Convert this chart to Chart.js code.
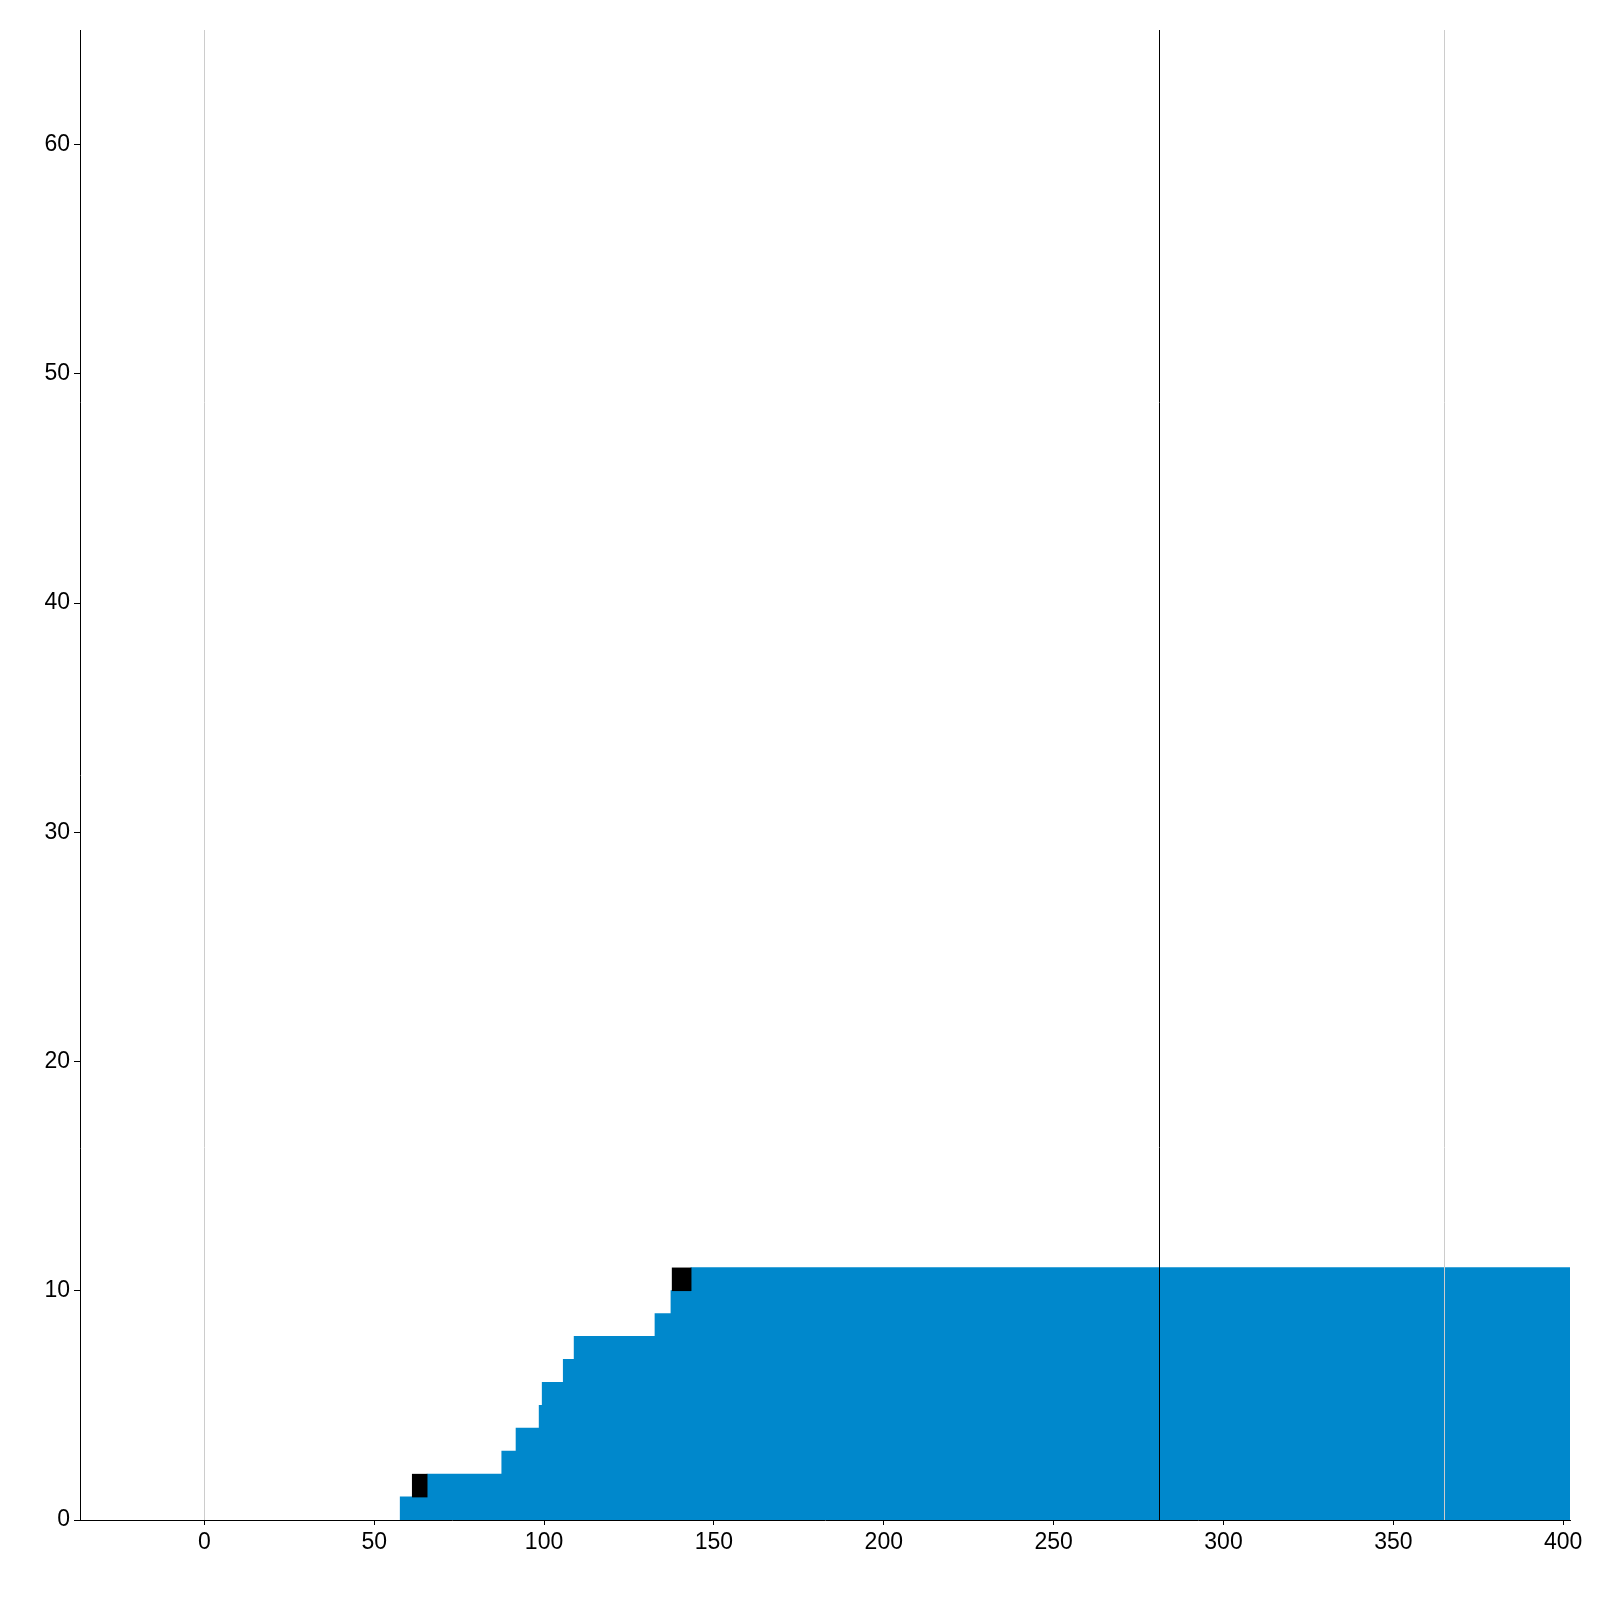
<!DOCTYPE html>
<html>
<head>
<meta charset="utf-8">
<script src="https://cdn.jsdelivr.net/npm/chart.js@4.4.1/dist/chart.umd.min.js"></script>
<style>
html,body{margin:0;padding:0;background:#ffffff;}
canvas{display:block;}
</style>
</head>
<body>
<canvas id="c" width="1600" height="1600"></canvas>
<script>
// Rows (each row spans [row, row+1] on the y axis)
const rows = [0, 1, 2, 3, 4, 5, 6, 7, 8, 9, 10];
const barStarts = [57.7, 65.6, 87.6, 91.8, 98.6, 99.5, 105.7, 108.9, 132.7, 137.4, 143.3];
const barEnds = [402, 402, 402, 402, 402, 402, 402, 402, 402, 402, 402];

// Black marker cells
const markerRows = [1, 10];
const markerStarts = [61.2, 137.7];
const markerEnds = [65.6, 143.3];

// Axis ticks
const xTicks = [0, 50, 100, 150, 200, 250, 300, 350, 400];
const yTicks = [0, 10, 20, 30, 40, 50, 60];

// Vertical rules
const grayRules = [0, 365];
const blackRules = [281];

const xMin = -36.6, xMax = 402, yMin = 0, yMax = 65;

const blueData = rows.map((r, i) => ({ x: [barStarts[i], barEnds[i]], y: r + 0.5 }));
const markerData = markerRows.map((r, i) => ({ x: [markerStarts[i], markerEnds[i]], y: r + 0.5 }));

const rulesPlugin = {
  id: 'rules',
  afterDatasetsDraw(chart) {
    const { ctx, chartArea: { top, bottom }, scales: { x } } = chart;
    ctx.save();
    ctx.lineWidth = 1;
    const draw = (v, color) => {
      const px = Math.round(x.getPixelForValue(v)) + 0.5;
      ctx.strokeStyle = color;
      ctx.beginPath();
      ctx.moveTo(px, top);
      ctx.lineTo(px, bottom);
      ctx.stroke();
    };
    grayRules.forEach(v => draw(v, '#cccccc'));
    blackRules.forEach(v => draw(v, '#000000'));
    ctx.restore();
  }
};

const tickFont = { family: "'Liberation Sans', Arial, sans-serif", size: 23 };

new Chart(document.getElementById('c'), {
  type: 'bar',
  data: {
    datasets: [
      {
        label: 'markers',
        data: markerData,
        backgroundColor: '#000000',
        borderWidth: 0,
        grouped: false,
        barPercentage: 1,
        categoryPercentage: 1,
        inflateAmount: 0.3
      },
      {
        label: 'rows',
        data: blueData,
        backgroundColor: '#0088cc',
        borderWidth: 0,
        grouped: false,
        barPercentage: 1,
        categoryPercentage: 1,
        inflateAmount: 0.5
      }
    ]
  },
  options: {
    indexAxis: 'y',
    responsive: false,
    animation: false,
    events: [],
    layout: { padding: { left: 0, top: 30, right: 30, bottom: 0 } },
    plugins: { legend: { display: false }, tooltip: { enabled: false } },
    scales: {
      x: {
        type: 'linear',
        min: xMin,
        max: xMax,
        offset: false,
        afterBuildTicks: s => { s.ticks = xTicks.map(v => ({ value: v })); },
        afterFit: s => { s.height = 80; },
        ticks: { color: '#000', font: tickFont, padding: 4, maxRotation: 0, autoSkip: false },
        grid: { drawOnChartArea: false, drawTicks: true, tickLength: 5, color: '#000', tickColor: '#000', lineWidth: 1, offset: false },
        border: { display: true, color: '#000', width: 1 }
      },
      y: {
        type: 'linear',
        min: yMin,
        max: yMax,
        offset: false,
        afterBuildTicks: s => { s.ticks = yTicks.map(v => ({ value: v })); },
        afterFit: s => { s.width = 80; },
        ticks: { color: '#000', font: tickFont, padding: 4, autoSkip: false },
        grid: { drawOnChartArea: false, drawTicks: true, tickLength: 6, color: '#000', tickColor: '#000', lineWidth: 1, offset: false },
        border: { display: true, color: '#000', width: 1 }
      }
    }
  },
  plugins: [rulesPlugin]
});
</script>
</body>
</html>
